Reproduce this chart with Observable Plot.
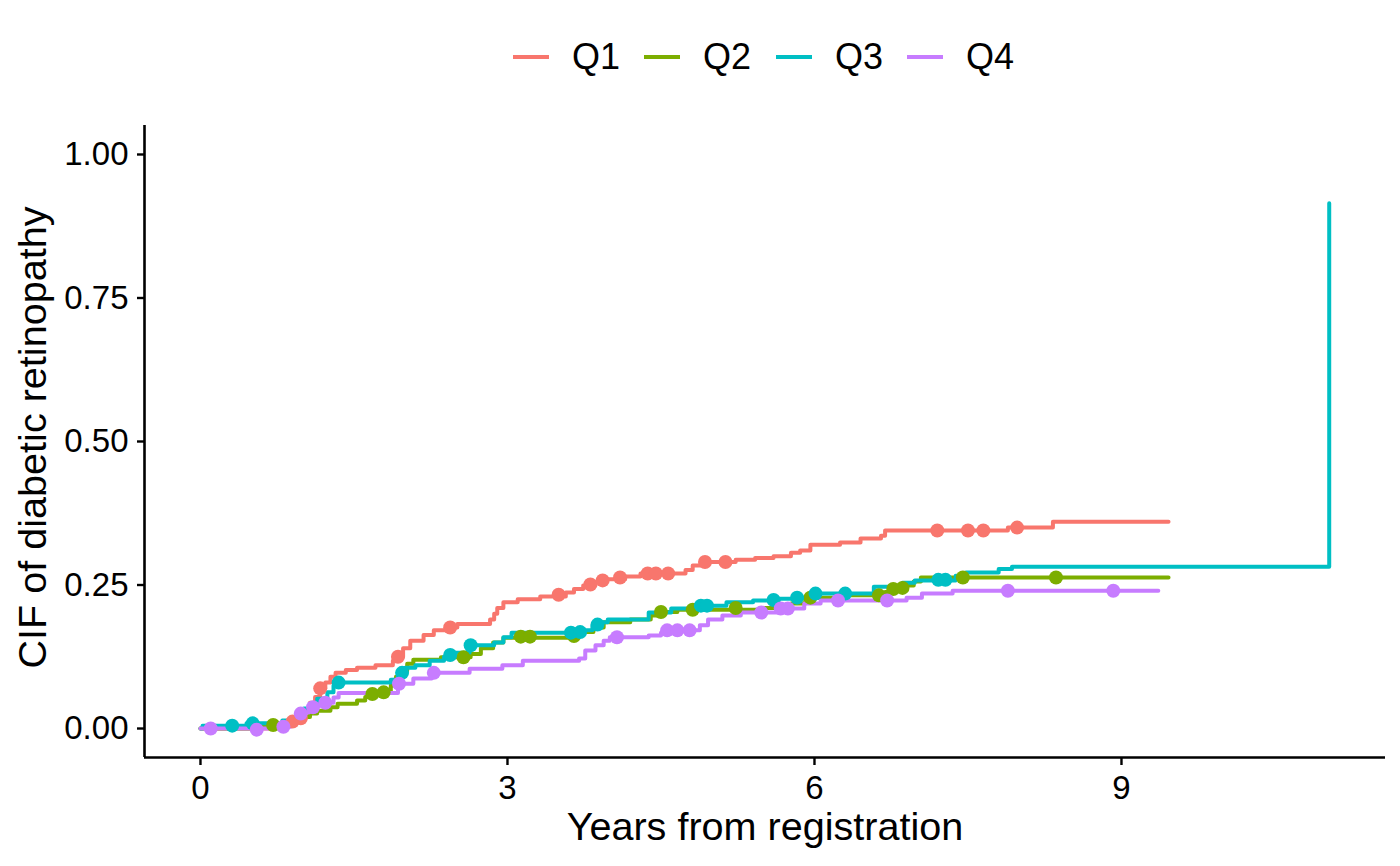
<!DOCTYPE html>
<html>
<head>
<meta charset="utf-8">
<script src="https://cdn.jsdelivr.net/npm/d3@7"></script>
<script src="https://cdn.jsdelivr.net/npm/@observablehq/plot@0.6"></script>
<style>
  html, body { margin: 0; padding: 0; background: #fff; }
  body { width: 1400px; height: 866px; overflow: hidden; font-family: "Liberation Sans", Arial, sans-serif; }
  #legend { position: relative; height: 100px; width: 1400px; }
  .item { position: absolute; top: 38px; height: 38px; display: flex; align-items: center; }
  .key { width: 36px; height: 4px; margin-right: 23px; }
  .lab { font-size: 36px; line-height: 38px; color: #000; }
  #chart svg { display: block; }
</style>
</head>
<body>
<div id="legend"></div>
<div id="chart"></div>
<script>
const groups = ["Q1", "Q2", "Q3", "Q4"];
const colors = ["#F8766D", "#7CAE00", "#00BFC4", "#C77CFF"];
const xTicks = [0, 3, 6, 9];
const yTicks = [0, 0.25, 0.5, 0.75, 1];

const q1_t = [0, 0.70, 0.88, 0.98, 1.03, 1.07, 1.12, 1.17, 1.22, 1.27, 1.32, 1.42, 1.53, 1.71, 1.88, 1.93, 1.98, 2.05, 2.18, 2.28, 2.44, 2.51, 2.83, 2.87, 2.90, 2.96, 3.10, 3.32, 3.57, 3.65, 3.74, 3.86, 3.96, 4.15, 4.30, 4.74, 4.81, 4.89, 5.23, 5.42, 5.60, 5.77, 5.86, 5.96, 6.25, 6.45, 6.65, 6.69, 7.89, 8.33, 9.46];
const q1_y = [0, 0.005, 0.012, 0.018, 0.03, 0.045, 0.055, 0.07, 0.08, 0.09, 0.097, 0.102, 0.106, 0.11, 0.118, 0.125, 0.14, 0.153, 0.163, 0.171, 0.176, 0.182, 0.19, 0.20, 0.21, 0.22, 0.225, 0.23, 0.237, 0.243, 0.249, 0.255, 0.26, 0.265, 0.27, 0.276, 0.284, 0.29, 0.294, 0.297, 0.30, 0.306, 0.31, 0.32, 0.324, 0.331, 0.336, 0.345, 0.35, 0.36, 0.36];
const q1_ct = [0.90, 0.98, 1.17, 1.93, 2.44, 3.50, 3.81, 3.93, 4.10, 4.37, 4.45, 4.57, 4.93, 5.13, 7.20, 7.50, 7.65, 7.98];
const q1_cy = [0.012, 0.018, 0.07, 0.125, 0.176, 0.233, 0.251, 0.258, 0.263, 0.27, 0.27, 0.27, 0.29, 0.29, 0.345, 0.345, 0.345, 0.35];

const q2_t = [0, 0.59, 0.88, 1.01, 1.07, 1.14, 1.27, 1.34, 1.53, 1.61, 1.68, 1.81, 1.86, 1.91, 1.95, 2.02, 2.08, 2.35, 2.64, 2.74, 2.86, 2.96, 3.66, 3.74, 3.84, 3.94, 4.20, 4.40, 4.50, 4.66, 5.50, 5.77, 5.91, 6.28, 6.69, 6.77, 6.89, 6.97, 7.04, 9.46];
const q2_y = [0, 0.005, 0.012, 0.02, 0.026, 0.031, 0.037, 0.043, 0.049, 0.055, 0.06, 0.066, 0.075, 0.09, 0.10, 0.113, 0.12, 0.124, 0.13, 0.14, 0.15, 0.158, 0.163, 0.168, 0.176, 0.185, 0.19, 0.197, 0.203, 0.207, 0.21, 0.218, 0.228, 0.232, 0.238, 0.243, 0.249, 0.256, 0.263, 0.263];
const q2_ct = [0.71, 1.68, 1.79, 2.57, 3.13, 3.22, 3.65, 4.50, 4.81, 5.23, 5.96, 6.63, 6.77, 6.86, 7.45, 8.36];
const q2_cy = [0.006, 0.06, 0.063, 0.124, 0.16, 0.16, 0.161, 0.203, 0.207, 0.21, 0.228, 0.232, 0.243, 0.245, 0.263, 0.263];

const q3_t = [0, 0.02, 0.45, 0.80, 0.95, 1.01, 1.07, 1.14, 1.24, 1.30, 1.35, 1.86, 1.93, 2.00, 2.10, 2.24, 2.38, 2.48, 2.63, 2.87, 2.96, 3.04, 3.73, 3.83, 3.92, 3.98, 4.38, 4.60, 4.84, 5.14, 5.40, 5.65, 5.80, 5.96, 6.58, 6.86, 6.98, 7.38, 7.48, 7.80, 7.93, 11.03];
const q3_y = [0, 0.005, 0.009, 0.014, 0.026, 0.035, 0.043, 0.052, 0.063, 0.075, 0.08, 0.085, 0.097, 0.106, 0.11, 0.118, 0.125, 0.132, 0.145, 0.15, 0.159, 0.167, 0.171, 0.179, 0.185, 0.19, 0.202, 0.209, 0.214, 0.22, 0.223, 0.226, 0.228, 0.235, 0.247, 0.254, 0.258, 0.266, 0.272, 0.278, 0.282, 0.915];
const q3_ct = [0.31, 0.51, 1.35, 1.97, 2.44, 2.64, 3.62, 3.71, 3.88, 4.89, 4.95, 5.60, 5.83, 6.01, 6.30, 7.21, 7.28];
const q3_cy = [0.005, 0.009, 0.08, 0.097, 0.128, 0.145, 0.167, 0.168, 0.181, 0.214, 0.214, 0.224, 0.228, 0.235, 0.235, 0.259, 0.259];

const q4_t = [0, 0.80, 0.88, 0.95, 1.00, 1.06, 1.12, 1.22, 1.30, 1.35, 1.93, 2.08, 2.26, 2.63, 2.95, 3.15, 3.70, 3.76, 3.86, 3.94, 4.00, 4.38, 4.50, 4.55, 4.88, 4.96, 5.10, 5.28, 5.65, 5.90, 6.06, 6.90, 7.05, 7.35, 9.36];
const q4_y = [0, 0.003, 0.014, 0.023, 0.028, 0.033, 0.04, 0.045, 0.054, 0.062, 0.078, 0.087, 0.097, 0.104, 0.11, 0.118, 0.122, 0.136, 0.145, 0.153, 0.159, 0.162, 0.167, 0.171, 0.18, 0.19, 0.197, 0.202, 0.209, 0.218, 0.223, 0.228, 0.235, 0.24, 0.24];
const q4_ct = [0.10, 0.55, 0.81, 0.98, 1.10, 1.22, 1.94, 2.28, 4.07, 4.56, 4.66, 4.78, 5.48, 5.67, 5.74, 6.23, 6.71, 7.89, 8.92];
const q4_cy = [0, -0.002, 0.003, 0.026, 0.037, 0.045, 0.078, 0.097, 0.159, 0.171, 0.171, 0.171, 0.202, 0.209, 0.209, 0.223, 0.223, 0.24, 0.24];

const xLabel = "Years from registration";
const yLabel = "CIF of diabetic retinopathy";

const series = [[q1_t, q1_y, q1_ct, q1_cy], [q2_t, q2_y, q2_ct, q2_cy], [q3_t, q3_y, q3_ct, q3_cy], [q4_t, q4_y, q4_ct, q4_cy]];
const steps = [], cens = [];
series.forEach(([t, y, ct, cy], i) => {
  t.forEach((v, j) => steps.push({g: groups[i], t: v, y: y[j]}));
  ct.forEach((v, j) => cens.push({g: groups[i], t: v, y: cy[j]}));
});

// legend
const legend = document.getElementById("legend");
const legendLeft = [513, 644, 776, 907];
groups.forEach((g, i) => {
  const it = document.createElement("div");
  it.className = "item";
  it.style.left = legendLeft[i] + "px";
  it.innerHTML = `<div class="key" style="background:${colors[i]}"></div><div class="lab">${g}</div>`;
  legend.appendChild(it);
});

const chart = Plot.plot({
  width: 1400,
  height: 766,
  marginTop: 25,
  marginBottom: 109,
  marginLeft: 144,
  marginRight: 15,
  style: {fontFamily: "'Liberation Sans', Arial, sans-serif", background: "#fff", color: "#000"},
  x: {domain: [-0.547, 11.58]},
  y: {domain: [-0.0505, 1.0505]},
  color: {domain: groups, range: colors},
  marks: [
    Plot.line(steps, {x: "t", y: "y", z: "g", stroke: "g", strokeWidth: 4, curve: "step-after"}),
    Plot.dot(cens, {x: "t", y: "y", fill: "g", r: 7, stroke: "none"}),
    Plot.ruleX([-0.547], {stroke: "#000", strokeWidth: 2.6}),
    Plot.ruleY([-0.0505], {stroke: "#000", strokeWidth: 2.6}),
    Plot.axisX({ticks: xTicks, tickSize: 8, tickPadding: 10, fontSize: 33, label: null, tickFormat: d3.format("d"), stroke: "#000", strokeWidth: 2.4}),
    Plot.axisY({ticks: yTicks, tickSize: 7, tickPadding: 9, fontSize: 33, label: null, tickFormat: d3.format(".2f"), stroke: "#000", strokeWidth: 2.4}),
    Plot.text([xLabel], {frameAnchor: "bottom", dy: 70, fontSize: 39.6, fill: "#000", textAnchor: "middle", lineAnchor: "middle"}),
    Plot.text([yLabel], {frameAnchor: "left", dx: -111, dy: -4, rotate: -90, fontSize: 39.6, fill: "#000", textAnchor: "middle", lineAnchor: "middle"})
  ]
});
document.getElementById("chart").appendChild(chart);
</script>
</body>
</html>
